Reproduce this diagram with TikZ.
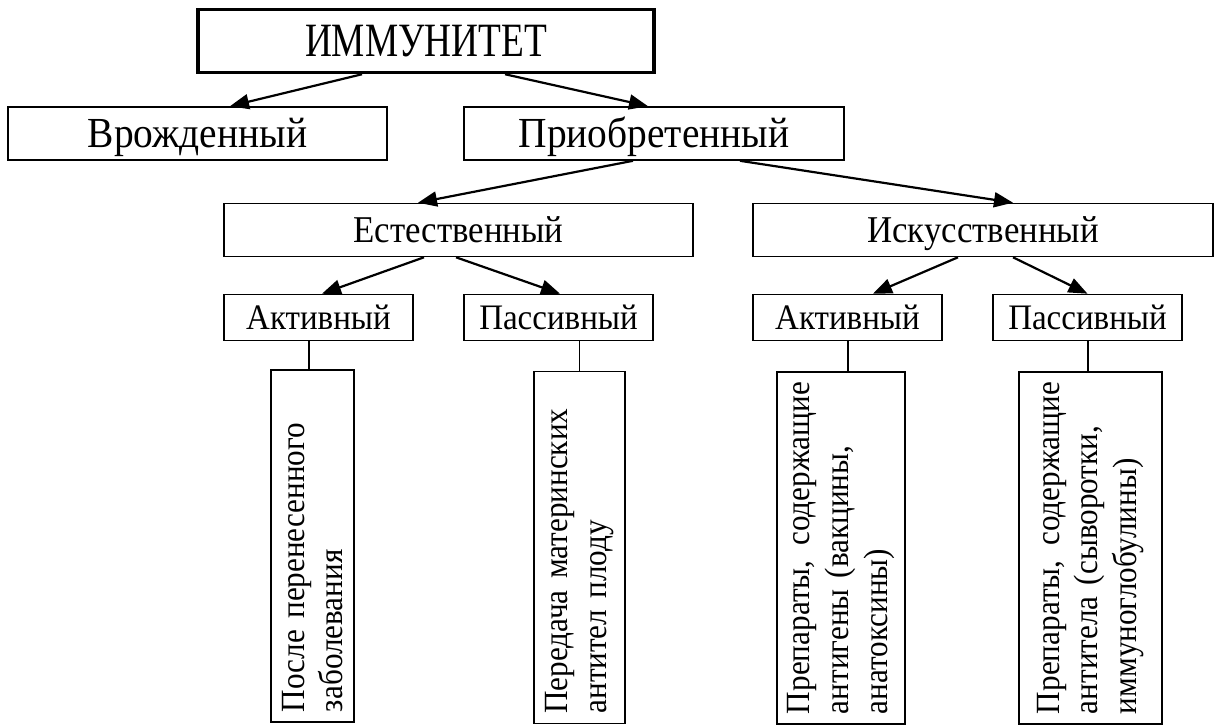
\documentclass[tikz,border=0pt]{standalone}
\usepackage{fontspec}
\setmainfont{Liberation Serif}[FakeStretch=0.92]
\newfontfamily\titlefont{Liberation Serif}[FakeStretch=0.78]
\usetikzlibrary{arrows.meta}

\begin{document}
\begin{tikzpicture}[x=1bp,y=-1bp,
	box/.style={draw,line width=1.6bp,inner sep=0pt,text depth=0pt},
	lvlzero/.style={font=\titlefont\fontsize{48}{54}\selectfont,text height=31.5bp},
	lvlone/.style={font=\fontsize{43}{49}\selectfont,text height=28bp},
	lvltwo/.style={font=\fontsize{38}{44}\selectfont,text height=25bp},
	lvlthree/.style={font=\fontsize{36}{42}\selectfont,text height=23.5bp},
	vbox/.style={draw,line width=1.2bp,rotate=90,inner sep=0pt,minimum width=352bp,text width=332bp,align=left,font=\fontsize{34}{39}\selectfont},
	arr/.style={line width=2.2bp,-{Triangle[length=19bp,width=15bp]}},
	link/.style={line width=1.2bp}]
	\useasboundingbox (0,0) rectangle (1214,726);

	\node[box,lvlzero,line width=3.5bp,minimum width=456bp,minimum height=63bp] (imm) at (426,41) {ИММУНИТЕТ};
	\node[box,lvlone,minimum width=379bp,minimum height=53bp] (vrozh) at (197.5,133.5) {Врожденный};
	\node[box,lvlone,minimum width=380bp,minimum height=53bp] (priob) at (654,133.5) {Приобретенный};

	\node[box,lvltwo,minimum width=469bp,minimum height=53bp] (estest) at (458.5,230) {Естественный};
	\node[box,lvltwo,minimum width=460bp,minimum height=53bp] (iskus) at (983,230) {Искусственный};

	\node[box,lvlthree,minimum width=189bp,minimum height=46bp] (actL) at (318.5,317.5) {Активный};
	\node[box,lvlthree,minimum width=189bp,minimum height=46bp] (pasL) at (558.5,317.5) {Пассивный};
	\node[box,lvlthree,minimum width=189bp,minimum height=46bp] (actR) at (847.5,317.5) {Активный};
	\node[box,lvlthree,minimum width=189bp,minimum height=46bp] (pasR) at (1087.5,317.5) {Пассивный};

	\node[vbox,minimum height=83bp] (vb1) at (312.5,546) {После перенесенного\\заболевания};
	\node[vbox,minimum height=91bp] (vb2) at (579.5,547.5) {Передача материнских\\антител плоду};
	\node[vbox,minimum height=128bp] (vb3) at (841,548) {Препараты,\hfill содержащие\\антигены (вакцины,\\анатоксины)};
	\node[vbox,minimum height=143bp] (vb4) at (1090.5,548) {Препараты,\hfill содержащие\\антитела (сыворотки,\\иммуноглобулины)};

	\draw[arr] ([xshift=-64bp]imm.south) -- ([xshift=32.5bp]vrozh.north);
	\draw[arr] ([xshift=79bp]imm.south) -- ([xshift=-6bp]priob.north);
	\draw[arr] ([xshift=-21bp]priob.south) -- ([xshift=-40.5bp]estest.north);
	\draw[arr] ([xshift=86bp]priob.south) -- ([xshift=30bp]iskus.north);
	\draw[arr] ([xshift=-34.5bp]estest.south) -- ([xshift=3.5bp]actL.north);
	\draw[arr] ([xshift=-2.5bp]estest.south) -- ([xshift=1.5bp]pasL.north);
	\draw[arr] ([xshift=-25bp]iskus.south) -- ([xshift=25.5bp]actR.north);
	\draw[arr] ([xshift=30bp]iskus.south) -- (pasR.north);

	\foreach \a/\b/\s in {actL/vb1/-3.5,pasL/vb2/0,actR/vb3/7,pasR/vb4/-2.5}
		\draw[link] ([xshift=\s bp]\b.east) -- ([xshift=\s bp]\b.east |- \a.south);
\end{tikzpicture}
\end{document}
